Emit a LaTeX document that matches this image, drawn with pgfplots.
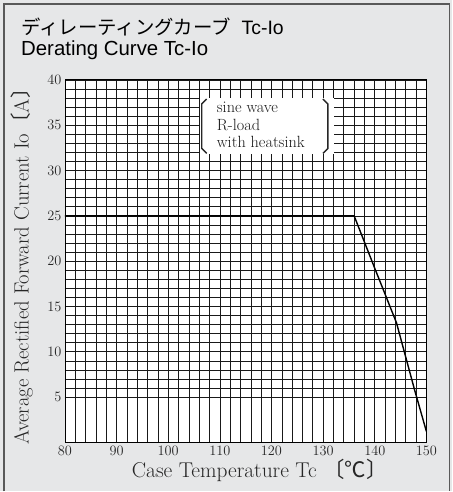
\documentclass[border=0pt]{standalone}
\usepackage{pgfplots}
\pgfplotsset{compat=1.18}
\usepackage{fontspec}
\newfontfamily\cjk{Noto Sans CJK JP}
\newfontfamily\titlefont{Liberation Sans}
\definecolor{bg}{HTML}{E6E7E8}
\begin{document}
\begin{tikzpicture}[x=1bp,y=1bp]
\fill[bg] (0,0) rectangle (453,492);
\draw[black!65, line width=1.3bp] (4,0) -- (4,488) -- (450,488) -- (450,0);
\node[anchor=base west, inner sep=0, font=\titlefont\fontsize{19.5}{22}\selectfont] at (21,457) {{\cjk ディレーティングカーブ}\ \ Tc-Io};
\node[anchor=base west, inner sep=0, font=\titlefont\fontsize{20.5}{23}\selectfont] at (21,436) {Derating Curve Tc-Io};
\begin{axis}[
  at={(65bp,49bp)}, anchor=south west, scale only axis,
  width=362bp, height=363bp,
  xmin=80, xmax=150, ymin=0, ymax=40,
  xtick={80,90,...,150}, ytick={5,10,...,40},
  minor x tick num=4, minor y tick num=4,
  grid=both,
  grid style={black!90, line width=0.65bp},
  major grid style={black!90, line width=0.65bp},
  minor grid style={black!90, line width=0.65bp},
  major tick length=0pt, minor tick length=0pt,
  axis background/.style={fill=white},
  axis line style={black, line width=0.8bp},
  ticklabel style={font=\fontsize{15}{17}\selectfont, text=black!85},
  xlabel={Case Temperature Tc {\cjk 〔℃〕}},
  ylabel={Average Rectified Forward Current Io{\cjk 〔}A{\cjk 〕}},
  xlabel style={font=\fontsize{21.5}{24}\selectfont, text=black!85, at={(axis description cs:0.5,-0.076)}, anchor=center, xshift=14bp},
  ylabel style={font=\fontsize{20.7}{23}\selectfont, text=black!85, at={(axis description cs:-0.119,0.5)}, anchor=center, xshift=0bp},
]
\addplot[black, line width=1.4bp] coordinates {(80,25) (136,25) (140,19.2) (144.2,13.2) (147.7,5.8) (150,1.2)};
\node[name=note, fill=white, anchor=north west, inner sep=0, minimum width=134bp, minimum height=56bp] at (axis cs:106.1,38.0) {};
\node[anchor=north west, align=left, inner sep=0, font=\fontsize{16.3}{17.5}\selectfont, text=black!90] at ([xshift=17bp,yshift=-4bp]note.north west) {sine wave\\R-load\\with heatsink};
\draw[line width=1.4bp, black!85] ([xshift=7bp,yshift=-1bp]note.north west) -- ++(-5bp,-5bp) -- ([xshift=2bp,yshift=6bp]note.south west) -- ++(5bp,-5bp);
\draw[line width=1.4bp, black!85] ([xshift=-11bp,yshift=-1bp]note.north east) -- ++(5bp,-5bp) -- ([xshift=-6bp,yshift=6bp]note.south east) -- ++(-5bp,-5bp);
\end{axis}
\end{tikzpicture}
\end{document}
